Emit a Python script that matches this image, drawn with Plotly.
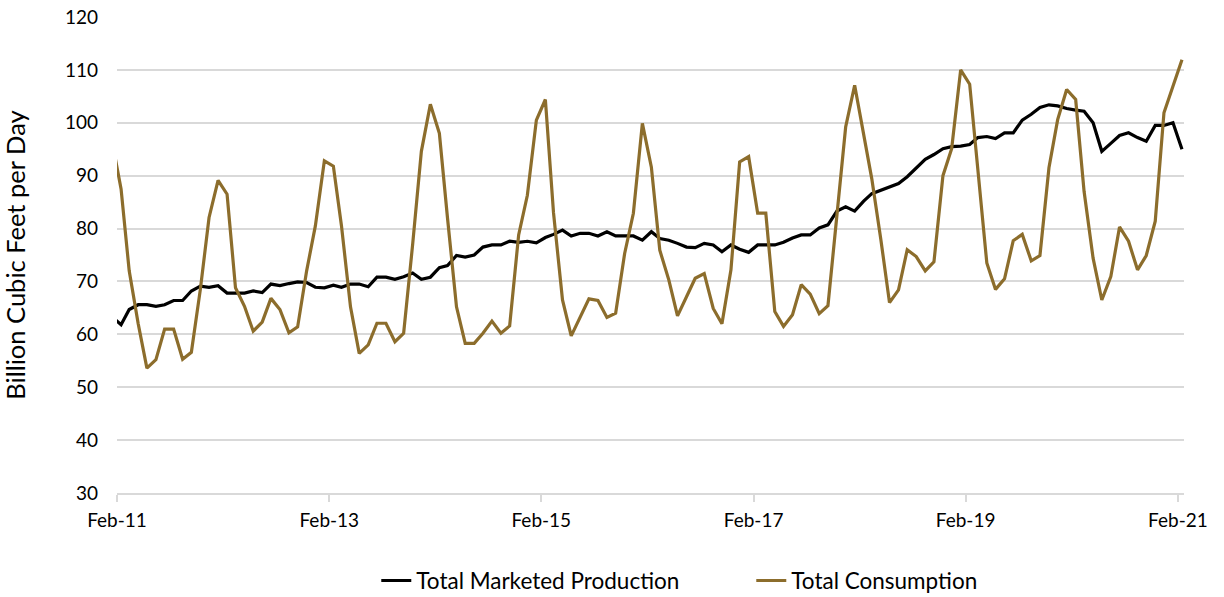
import pandas as pd
import plotly.graph_objects as go

# Monthly observations, Jan-2011 .. Feb-2021 (plotted at mid-month)
months = [d.strftime("%Y-%m-15") for d in pd.date_range("2011-01-01", "2021-02-01", freq="MS")]

production = [
    63.3, 61.8, 64.7, 65.6, 65.6, 65.3, 65.6, 66.4, 66.4, 68.2, 69.1, 68.9,
    69.2, 67.8, 67.8, 67.8, 68.2, 67.9, 69.5, 69.2, 69.6, 69.9, 69.8, 68.9,
    68.8, 69.3, 68.9, 69.5, 69.5, 69.0, 70.8, 70.8, 70.4, 70.9, 71.6, 70.4,
    70.8, 72.6, 73.0, 74.9, 74.6, 75.0, 76.5, 76.9, 76.9, 77.6, 77.4, 77.6,
    77.3, 78.3, 78.9, 79.7, 78.6, 79.1, 79.1, 78.6, 79.4, 78.6, 78.6, 78.6,
    77.8, 79.4, 78.1, 77.8, 77.2, 76.5, 76.4, 77.2, 76.9, 75.6, 76.9, 76.1,
    75.5, 76.9, 76.9, 76.9, 77.4, 78.2, 78.8, 78.8, 80.1, 80.7, 83.3, 84.1,
    83.3, 85.2, 86.6, 87.2, 87.9, 88.5, 89.8, 91.5, 93.1, 94.0, 95.1, 95.5,
    95.6, 95.9, 97.2, 97.4, 97.0, 98.1, 98.1, 100.5, 101.6, 102.9, 103.4, 103.2,
    102.7, 102.4, 102.2, 100.0, 94.6, 96.1, 97.6, 98.1, 97.2, 96.5, 99.5, 99.5,
    100.0, 95.0,
]

consumption = [
    96.5, 87.5, 72.0, 62.0, 53.6, 55.2, 61.0, 61.0, 55.3, 56.6, 68.5, 82.1,
    89.1, 86.5, 68.8, 65.3, 60.6, 62.3, 66.8, 64.7, 60.3, 61.4, 72.0, 80.5,
    92.8, 91.8, 80.5, 65.2, 56.4, 58.0, 62.1, 62.1, 58.6, 60.2, 77.0, 94.6,
    103.5, 98.0, 82.0, 65.2, 58.3, 58.3, 60.2, 62.5, 60.2, 61.6, 78.8, 86.3,
    100.5, 104.4, 83.0, 66.5, 59.7, 63.3, 66.7, 66.4, 63.2, 64.0, 75.3, 82.9,
    99.9, 91.6, 75.9, 70.3, 63.5, 67.1, 70.6, 71.5, 64.9, 62.0, 72.2, 92.6,
    93.6, 82.9, 82.9, 64.3, 61.5, 63.7, 69.4, 67.6, 63.9, 65.4, 82.0, 99.2,
    107.1, 97.5, 89.4, 78.0, 66.0, 68.4, 76.0, 74.7, 72.0, 73.7, 90.0, 95.1,
    110.0, 107.3, 91.0, 73.5, 68.5, 70.5, 77.7, 78.9, 73.9, 74.9, 91.5, 100.6,
    106.3, 104.4, 87.0, 74.4, 66.5, 70.9, 80.3, 77.6, 72.2, 74.9, 81.4, 101.9,
    106.9, 111.9,
]

tick_dates = ["2011-02-01", "2013-02-01", "2015-02-01", "2017-02-01", "2019-02-01", "2021-02-01"]
tick_labels = ["Feb-11", "Feb-13", "Feb-15", "Feb-17", "Feb-19", "Feb-21"]
y_ticks = [30, 40, 50, 60, 70, 80, 90, 100, 110, 120]

FONT = "Lato"

fig = go.Figure()
fig.add_trace(go.Scatter(x=months, y=production, mode="lines", name="Total Marketed Production",
                         line=dict(color="#000000", width=3.2)))
fig.add_trace(go.Scatter(x=months, y=consumption, mode="lines", name="Total Consumption",
                         line=dict(color="#8C6D2C", width=3.2)))

fig.update_layout(
    width=1224, height=597,
    margin=dict(l=117, r=40, t=17, b=104, autoexpand=False),
    paper_bgcolor="white", plot_bgcolor="white",
    font=dict(family=FONT, size=19, color="#000000"),
    showlegend=True,
    legend=dict(orientation="h", x=0.243, xanchor="left", yref="container", y=0.027,
                yanchor="middle", font=dict(family=FONT, size=22.5),
                entrywidthmode="pixels", entrywidth=330),
    xaxis=dict(type="date", range=["2011-02-01", "2021-02-22"], automargin=False,
               tickvals=tick_dates, ticktext=tick_labels,
               showgrid=False, showline=True, linecolor="#d9d9d9", linewidth=2,
               ticks="outside", ticklen=7, tickcolor="#d9d9d9", tickwidth=2,
               ticklabelstandoff=2, ticklabeloverflow="allow",
               tickfont=dict(family=FONT, size=19), zeroline=False),
    yaxis=dict(range=[30, 120.001], tickvals=y_ticks,
               showgrid=True, gridcolor="#d9d9d9",
               gridwidth=2, zeroline=False, showline=False, ticks="", automargin=False,
               ticklabelstandoff=18, ticklabeloverflow="allow",
               tickfont=dict(family=FONT, size=19),
               title=dict(text="Billion Cubic Feet per Day", font=dict(family=FONT, size=25.5),
                          standoff=37)),
)

# remove the default 8px page margin so the figure fills the window exactly
fig.write_html("out.html", config={"displayModeBar": False},
               post_script="document.body.style.margin='0';")
